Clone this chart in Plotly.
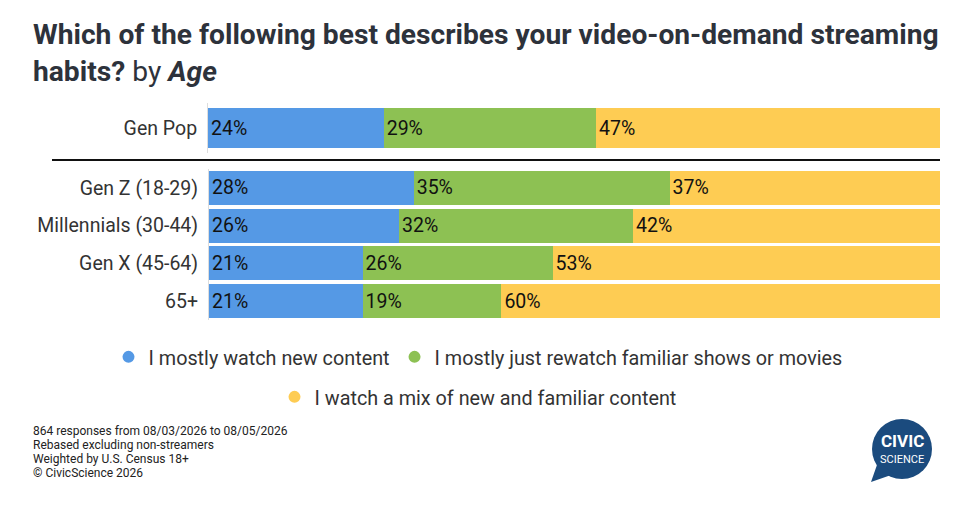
import plotly.graph_objects as go

# data
top_group = ["Gen Pop"]
top_new = [24]
top_rewatch = [29]
top_mix = [47]

age_groups = ["Gen Z (18-29)", "Millennials (30-44)", "Gen X (45-64)", "65+"]
age_new = [28, 26, 21, 21]
age_rewatch = [35, 32, 26, 19]
age_mix = [37, 42, 53, 60]

series_names = ["I mostly watch new content",
                "I mostly just rewatch familiar shows or movies",
                "I watch a mix of new and familiar content"]
colors = ["#5599e5", "#8dc153", "#fecc53"]

notes = ["864 responses from 08/03/2026 to 08/05/2026",
         "Rebased excluding non-streamers",
         "Weighted by U.S. Census 18+",
         "© CivicScience 2026"]

W, H = 966, 507
OFF = 8  # page body margin shifts the figure


def px(x):
    return (x - OFF) / W


def py(y):
    return 1 - (y - OFF) / H


fig = go.Figure()

for vals, name, col in zip([top_new, top_rewatch, top_mix], series_names, colors):
    fig.add_trace(go.Bar(
        y=top_group, x=vals, orientation="h", name=name,
        marker=dict(color=col, line=dict(width=0)),
        text=[f"{v}%" for v in vals], textposition="inside",
        insidetextanchor="start", textangle=0,
        textfont=dict(size=19.5, color="#111111"),
        showlegend=False, xaxis="x", yaxis="y", hoverinfo="skip"))

for vals, name, col in zip([age_new, age_rewatch, age_mix], series_names, colors):
    fig.add_trace(go.Bar(
        y=age_groups, x=vals, orientation="h", name=name,
        marker=dict(color=col, line=dict(width=0)),
        text=[f"{v}%" for v in vals], textposition="inside",
        insidetextanchor="start", textangle=0,
        textfont=dict(size=19.5, color="#111111"),
        showlegend=False, xaxis="x2", yaxis="y2", hoverinfo="skip"))

# legend entries (round markers)
for i, (name, col) in enumerate(zip(series_names, colors)):
    fig.add_trace(go.Scatter(
        x=[None], y=[None], mode="markers", name=name,
        marker=dict(color=col, size=16, symbol="circle"),
        legend="legend" if i < 2 else "legend2",
        xaxis="x", yaxis="y"))

yax = dict(showgrid=False, zeroline=False, showline=True, linecolor="#dddddd",
           linewidth=1, ticks="", ticklabelstandoff=6,
           tickfont=dict(size=19.5, color="#333333"), fixedrange=True)
xax = dict(range=[0, 100], showgrid=False, zeroline=False, showline=False,
           showticklabels=False, fixedrange=True)
leg = dict(orientation="h", x=px(478), xanchor="center", yanchor="middle",
           traceorder="normal", font=dict(size=19.8, color="#333333"),
           itemsizing="constant", bgcolor="rgba(0,0,0,0)")

fig.update_layout(
    width=W, height=H,
    margin=dict(l=0, r=0, t=0, b=0),
    paper_bgcolor="white", plot_bgcolor="white",
    font=dict(family="Roboto", color="#333333"),
    barmode="stack", bargap=0.1,
    xaxis=dict(xax, domain=[px(208), px(940)], anchor="y"),
    yaxis=dict(yax, domain=[py(153), py(103)], range=[-0.55, 0.55], anchor="x"),
    xaxis2=dict(xax, domain=[px(209), px(940)], anchor="y2"),
    yaxis2=dict(yax, domain=[py(320), py(169)], range=[3.5, -0.5], anchor="x2"),
    legend=dict(leg, y=py(357)),
    legend2=dict(leg, y=py(397)),
    showlegend=True,
)

# title
fig.add_annotation(
    xref="paper", yref="paper", x=px(31), y=py(16), xanchor="left", yanchor="top",
    align="left", showarrow=False,
    text="<b>Which of the following best describes your video-on-demand streaming<br>"
         "habits?</b> by <b><i>Age</i></b>",
    font=dict(size=28.2, color="#2d323b"))

# footer notes, one line each
for i, line in enumerate(notes):
    fig.add_annotation(
        xref="paper", yref="paper", x=px(31), y=py(431 + 14 * i),
        xanchor="left", yanchor="middle", showarrow=False, text=line,
        font=dict(size=12, color="#222222"))

# divider between Gen Pop and age groups
fig.add_shape(type="line", xref="paper", yref="paper",
              x0=px(52), x1=px(940), y0=py(160), y1=py(160),
              line=dict(color="#111111", width=2))

# logo bubble
logo = "#1b4b7e"
fig.add_shape(type="circle", xref="paper", yref="paper", layer="below",
              x0=px(872), x1=px(932), y0=py(479), y1=py(419),
              fillcolor=logo, line=dict(width=0))
fig.add_shape(type="path", xref="paper", yref="paper", layer="below",
              path=f"M {px(878)} {py(462)} L {px(871)} {py(482)} L {px(894)} {py(474)} Z",
              fillcolor=logo, line=dict(width=0))
fig.add_annotation(xref="paper", yref="paper", x=px(902), y=py(441), showarrow=False,
                   xanchor="center", yanchor="middle", borderpad=0,
                   text="<b>CIVIC</b>", font=dict(size=17, color="white"))
fig.add_annotation(xref="paper", yref="paper", x=px(902), y=py(459), showarrow=False,
                   xanchor="center", yanchor="middle", borderpad=0,
                   text="SCIENCE", font=dict(size=11, color="white"))

fig.write_html("out.html")
